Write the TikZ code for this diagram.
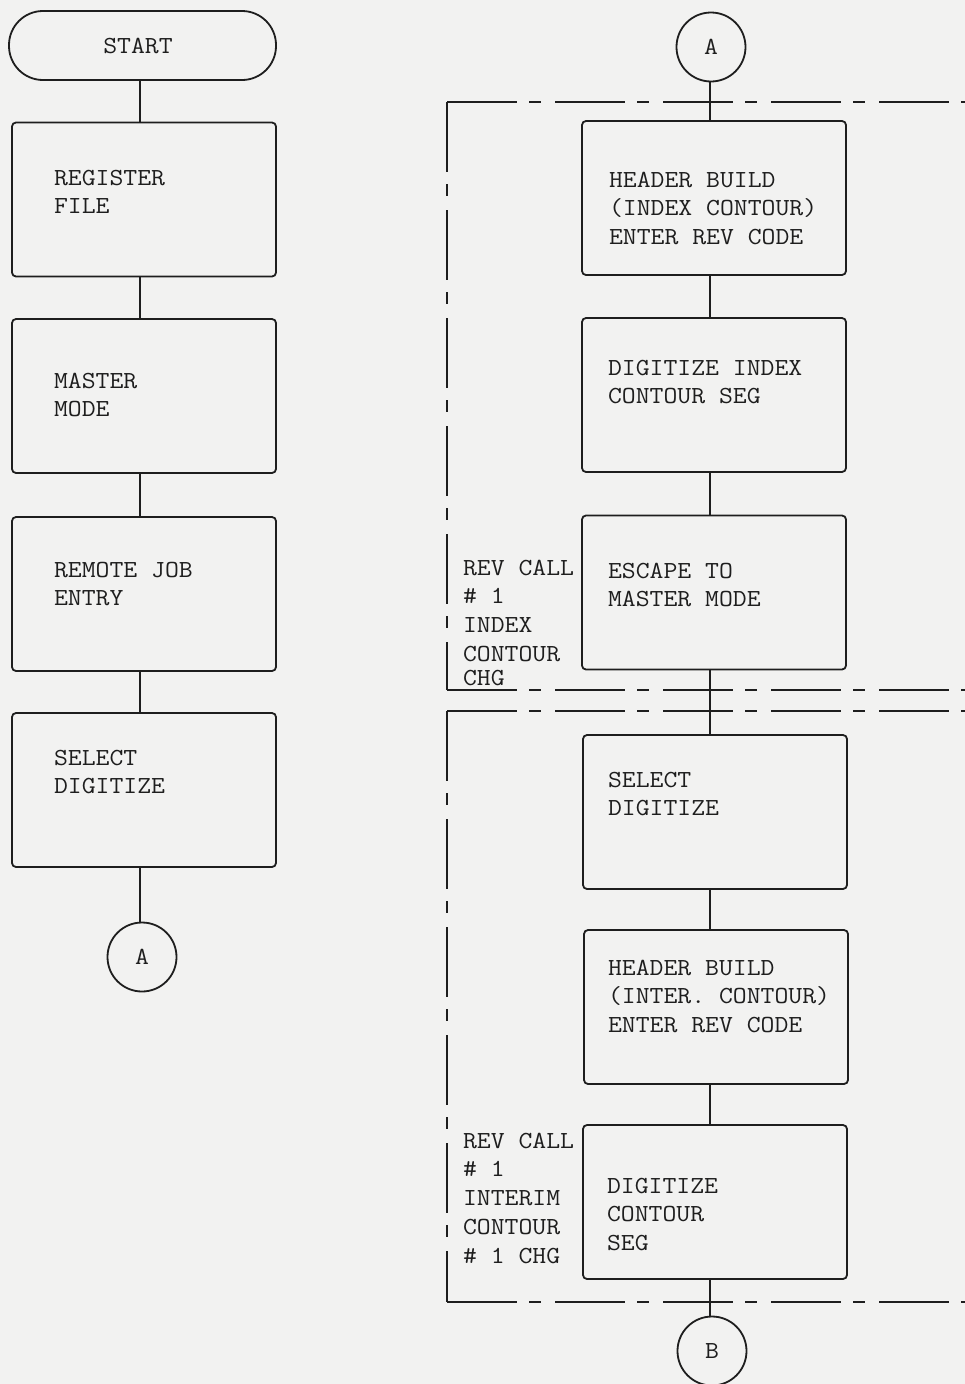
\documentclass[tikz,border=0pt]{standalone}
\usepackage{graphicx}
\newcommand{\mltext}[1]{\scalebox{1.1}[1]{\begin{tabular}[t]{@{}l@{}}#1\end{tabular}}}
\definecolor{ink}{RGB}{30,30,30}
\definecolor{paper}{RGB}{242,242,241}
\begin{document}
\begin{tikzpicture}[x=1pt,y=-1pt,
  every node/.style={font=\ttfamily\fontsize{24.5}{28.8}\selectfont, text=ink},
  stepbox/.style={draw=ink, line width=1.8pt, rounded corners=4pt,
    minimum width=264pt, minimum height=154pt, inner sep=0pt},
  term/.style={draw=ink, line width=1.8pt, rounded corners=34pt,
    minimum width=267pt, minimum height=69pt, inner sep=0pt},
  conn/.style={draw=ink, line width=1.8pt, circle, minimum size=69pt, inner sep=0pt},
  txt/.style={anchor=base west, inner sep=0pt, outer sep=0pt},
  link/.style={draw=ink, line width=1.8pt},
  frame/.style={draw=ink, line width=1.8pt, dash pattern=on 70pt off 12pt on 12pt off 14pt}]
\fill[paper] (0,0) rectangle (965,1384);
\useasboundingbox (0,0) rectangle (965,1384);

% ---------- left column ----------
\node[term] (start) at (142.5,45.5) {\hspace*{-9pt}\scalebox{1.1}[1]{START}};
\node[stepbox] (reg) at (144,199.5) {};
\node[stepbox] (mas) at (144,396) {};
\node[stepbox] (rje) at (144,594) {};
\node[stepbox] (sel) at (144,790) {};
\node[conn] (Aout) at (142,957) {\scalebox{1.1}[1]{A}};

\node[txt] (regt) at (54,185) {\mltext{REGISTER\\FILE}};
\node[txt] (mast) at (54,388) {\mltext{MASTER\\MODE}};
\node[txt] (rjet) at (54,577) {\mltext{REMOTE JOB\\ENTRY}};
\node[txt] (selt) at (54,765) {\mltext{SELECT\\DIGITIZE}};

\coordinate (lx) at (140,0);
\draw[link] (start.south -| lx) -- (reg.north -| lx);
\draw[link] (reg.south -| lx) -- (mas.north -| lx);
\draw[link] (mas.south -| lx) -- (rje.north -| lx);
\draw[link] (rje.south -| lx) -- (sel.north -| lx);
\draw[link] (sel.south -| lx) -- (Aout.north -| lx);

% ---------- right column ----------
\node[conn] (Ain) at (711,47) {\scalebox{1.1}[1]{A}};
\node[stepbox] (hb1) at (714,198) {};
\node[stepbox] (dig1) at (714,395) {};
\node[stepbox] (esc) at (714,592.5) {};
\node[stepbox] (sel2) at (715,812) {};
\node[stepbox] (hb2) at (716,1007) {};
\node[stepbox] (dig2) at (715,1202) {};
\node[conn] (B) at (712,1351) {\scalebox{1.1}[1]{B}};

\node[txt] (hb1t) at (609,187) {\mltext{HEADER BUILD\\(INDEX CONTOUR)\\ENTER REV CODE}};
\node[txt] (dig1t) at (608,375) {\mltext{DIGITIZE INDEX\\CONTOUR SEG}};
\node[txt] (esct) at (608,578) {\mltext{ESCAPE TO\\MASTER MODE}};
\node[txt] (sel2t) at (608,787) {\mltext{SELECT\\DIGITIZE}};
\node[txt] (hb2t) at (608,975) {\mltext{HEADER BUILD\\(INTER. CONTOUR)\\ENTER REV CODE}};
\node[txt] (dig2t) at (607,1193) {\mltext{DIGITIZE\\CONTOUR\\SEG}};

\node[txt] (rev1) at (463,575) {\mltext{REV CALL\\\# 1\\INDEX\\CONTOUR}};
\node[txt] (rev1b) at (463,685) {\scalebox{1.1}[1]{CHG}};
\node[txt] (rev2) at (463,1148) {\mltext{REV CALL\\\# 1\\INTERIM\\CONTOUR\\\# 1 CHG}};

\coordinate (rx) at (710,0);
\draw[link] (Ain.south -| rx) -- (hb1.north -| rx);
\draw[link] (hb1.south -| rx) -- (dig1.north -| rx);
\draw[link] (dig1.south -| rx) -- (esc.north -| rx);
\draw[link] (esc.south -| rx) -- (sel2.north -| rx);
\draw[link] (sel2.south -| rx) -- (hb2.north -| rx);
\draw[link] (hb2.south -| rx) -- (dig2.north -| rx);
\draw[link] (dig2.south -| rx) -- (B.north -| rx);

% ---------- dashed revision frames ----------
\coordinate (f1tl) at (447,102);
\coordinate (f1tr) at (965,102);
\coordinate (f1bl) at (447,690);
\coordinate (f1br) at (965,690);
\coordinate (f2tl) at (447,711);
\coordinate (f2tr) at (965,711);
\coordinate (f2bl) at (447,1302);
\coordinate (f2br) at (965,1302);
\draw[frame] (f1tl) -- (f1tr);
\draw[frame] (f1tl) -- (f1bl);
\draw[frame] (f1bl) -- (f1br);
\draw[frame] (f2tl) -- (f2tr);
\draw[frame] (f2tl) -- (f2bl);
\draw[frame] (f2bl) -- (f2br);
\end{tikzpicture}
\end{document}
